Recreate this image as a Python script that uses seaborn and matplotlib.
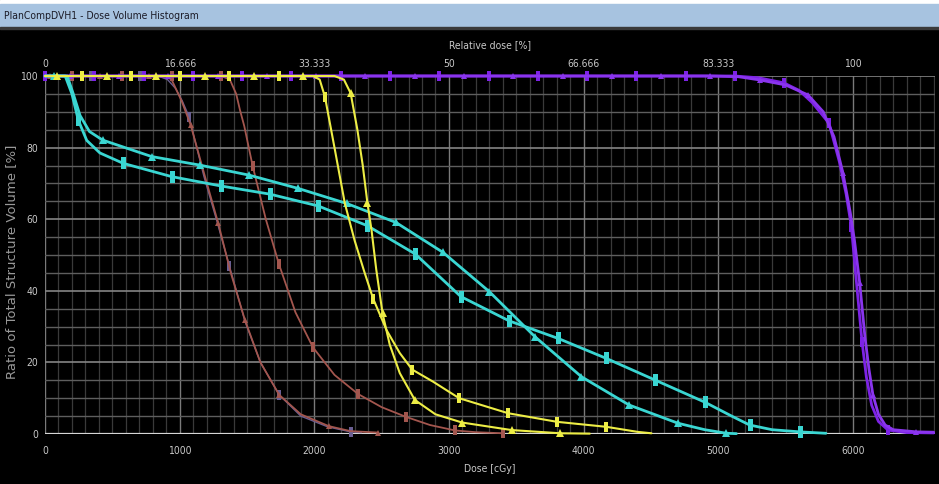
import numpy as np
import pandas as pd
import matplotlib
matplotlib.use("Agg")
import matplotlib.pyplot as plt
from matplotlib.patches import Rectangle
from matplotlib.ticker import MultipleLocator
import seaborn as sns

# ---------------- data (dose in cGy, volume in %) ----------------
ps_dose = [0, 366, 732, 1098, 1464, 1830, 2196, 2562, 2928, 3294, 3660, 4026, 4392, 4758, 5124,
           5300, 5486, 5600, 5700, 5823, 5900, 5950, 5989, 6030, 6068, 6100, 6140, 6190, 6261, 6400, 6600]
ps_vol = [100, 100, 100, 100, 100, 100, 100, 100, 100, 100, 100, 100, 100, 100, 100,
          99.5, 98.1, 96, 92.5, 86.8, 76, 67, 57.9, 41, 25.8, 16, 8, 3.5, 1.1, 0.4, 0.3]
ps_mark = [1, 1, 1, 1, 1, 1, 1, 1, 1, 1, 1, 1, 1, 1, 1,
           0, 1, 0, 0, 1, 0, 0, 1, 0, 1, 0, 0, 0, 1, 0, 0]

pt_dose = [0, 184, 550, 916, 1282, 1648, 2014, 2380, 2746, 3112, 3478, 3844, 4210, 4576, 4942,
           5150, 5308, 5500, 5667, 5780, 5860, 5927, 5980, 6012, 6051, 6090, 6120, 6149, 6190, 6240,
           6300, 6471, 6600]
pt_vol = [100, 100, 100, 100, 100, 100, 100, 100, 100, 100, 100, 100, 100, 100, 100,
          99.8, 98.9, 97.5, 94.7, 90, 83, 72.8, 62, 54, 42.1, 27, 18, 10.9, 5.5, 2.5,
          1.2, 0.6, 0.5]
pt_mark = [0, 1, 1, 1, 1, 1, 1, 1, 1, 1, 1, 1, 1, 1, 1,
           0, 1, 0, 1, 0, 0, 1, 0, 0, 1, 0, 0, 1, 0, 0,
           0, 1, 0]

cs_dose = [0, 150, 200, 247, 310, 408, 581, 940, 1304, 1670, 2029, 2393, 2749, 3088, 3447,
           3811, 4170, 4529, 4900, 5100, 5234, 5400, 5605, 5800]
cs_vol = [100, 100, 95, 87.7, 82, 78.5, 75.6, 71.9, 69.3, 67, 63.7, 58.2, 50.3, 38.4, 31.6,
          26.7, 21.1, 15.1, 8.9, 5, 2.5, 1.2, 0.6, 0.2]
cs_mark = [0, 0, 0, 1, 0, 0, 1, 1, 1, 1, 1, 1, 1, 1, 1,
           1, 1, 1, 1, 0, 1, 0, 1, 0]

ct_dose = [0, 64, 165, 210, 260, 330, 428, 792, 1151, 1517, 1880, 2240, 2606, 2957, 3299,
           3638, 3984, 4338, 4702, 4900, 5061, 5135]
ct_vol = [100, 100, 100, 95, 89, 84.5, 82.1, 77.5, 75.1, 72.3, 68.6, 64.4, 59.1, 50.7, 39.8,
          27.2, 16, 8.1, 3, 1.2, 0.2, 0.1]
ct_mark = [0, 1, 0, 0, 0, 0, 1, 1, 1, 1, 1, 1, 1, 1, 1,
           1, 1, 1, 1, 0, 1, 0]

ys_dose = [0, 272, 638, 1002, 1368, 1740, 1990, 2040, 2079, 2150, 2227, 2300, 2370, 2437, 2537,
           2635, 2727, 2883, 3076, 3440, 3803, 4170, 4400, 4504]
ys_vol = [100, 100, 100, 100, 100, 100, 100, 99, 94.2, 80, 64.4, 54, 45.5, 37.8, 29,
          22.6, 18, 14.6, 10, 5.8, 3.4, 2, 0.6, 0.2]
ys_mark = [0, 1, 1, 1, 1, 1, 0, 0, 1, 0, 0, 0, 0, 1, 0,
           0, 1, 0, 1, 1, 1, 1, 0, 0]

yt_dose = [0, 87, 458, 822, 1188, 1554, 1918, 2150, 2220, 2270, 2320, 2360, 2395, 2425, 2460,
           2507, 2560, 2635, 2747, 2900, 3098, 3465, 3828, 4046]
yt_vol = [100, 100, 100, 100, 100, 100, 100, 100, 99, 95.2, 85, 75, 64.4, 57, 46,
          33.7, 25, 17, 9.5, 5.5, 3.2, 1.1, 0.2, 0.1]
yt_mark = [0, 1, 1, 1, 1, 1, 1, 0, 0, 1, 0, 0, 1, 0, 0,
           1, 0, 0, 1, 0, 1, 1, 1, 0]

bt_dose = [0, 37, 408, 774, 900, 940, 1015, 1082, 1180, 1287, 1380, 1485, 1600, 1740, 1900,
           2108, 2269, 2475]
bt_vol = [100, 100, 100, 100, 99.8, 99, 93, 86.3, 73, 58.8, 45, 31.8, 20, 10.9, 5.5,
          2.2, 0.8, 0.4]
bt_mark = [0, 1, 1, 1, 0, 0, 0, 1, 0, 1, 0, 1, 0, 1, 0,
           1, 0, 1]

gs_dose = [0, 338, 704, 840, 910, 970, 1020, 1070, 1180, 1280, 1369, 1485, 1600, 1740, 1900,
           2100, 2269, 2350]
gs_vol = [100, 100, 100, 100, 99, 96.5, 93, 88.6, 72, 59, 47, 31.5, 20, 10.9, 5,
          2, 0.6, 0.4]
gs_mark = [0, 1, 1, 0, 0, 0, 0, 1, 0, 0, 1, 0, 0, 1, 0,
           0, 1, 0]

bs_dose = [0, 200, 570, 940, 1310, 1373, 1420, 1448, 1480, 1542, 1640, 1737, 1860, 1990, 2150,
           2324, 2500, 2680, 2860, 3044, 3200, 3402]
bs_vol = [100, 100, 100, 100, 100, 99, 95, 90.5, 86, 74.9, 60, 47.5, 34, 24.2, 16.5,
          11.2, 7.5, 4.8, 2.5, 1.0, 0.5, 0.2]
bs_mark = [0, 1, 1, 1, 1, 0, 0, 0, 0, 1, 0, 1, 0, 1, 0,
           1, 0, 1, 0, 1, 0, 1]

x_ticks = [0, 1000, 2000, 3000, 4000, 5000, 6000]
rel_labels = ["0", "16.666", "33.333", "50", "66.666", "83.333", "100"]
y_ticks = [0, 20, 40, 60, 80, 100]

# ---------------- styling ----------------
W, H = 939, 484
sns.set_theme(style="dark")
plt.rcParams["font.family"] = ["DejaVu Sans"]
plt.rcParams["font.stretch"] = "condensed"

fig = plt.figure(figsize=(W / 100, H / 100), dpi=100, facecolor="black")
ax = fig.add_axes([45 / W, 1 - 434 / H, (935 - 45) / W, (434 - 76) / H])
ax.set_facecolor("black")

ax.set_xlim(0, 6610)
ax.set_ylim(0, 100)

# grid
ax.xaxis.set_major_locator(MultipleLocator(1000))
ax.xaxis.set_minor_locator(MultipleLocator(100))
ax.yaxis.set_major_locator(MultipleLocator(20))
ax.yaxis.set_minor_locator(MultipleLocator(5))
ax.grid(True, which="minor", axis="x", color="#3a3a3a", lw=0.9)
ax.grid(True, which="major", axis="x", color="#7a7a7a", lw=1.0)
ax.grid(True, which="minor", axis="y", color="#5e5e5e", lw=1.0)
ax.grid(True, which="major", axis="y", color="#858585", lw=1.2)
ax.set_axisbelow(True)
for s in ax.spines.values():
    s.set_visible(False)
ax.axhline(0, color="#d6d6d6", lw=1.6, zorder=1)

rect_marker = [(-0.45, -1), (0.45, -1), (0.45, 1), (-0.45, 1), (-0.45, -1)]

curves = [
    (gs_dose, gs_vol, gs_mark, "#6a5f93", 1.0, rect_marker, 7),
    (bt_dose, bt_vol, bt_mark, "#a3564e", 1.3, "^", 5),
    (bs_dose, bs_vol, bs_mark, "#a3564e", 1.3, rect_marker, 7),
    (ps_dose, ps_vol, ps_mark, "#7d22e6", 2.0, rect_marker, 7),
    (pt_dose, pt_vol, pt_mark, "#8a35ee", 2.0, "^", 5),
    (cs_dose, cs_vol, cs_mark, "#3ad6d2", 2.0, rect_marker, 8),
    (ct_dose, ct_vol, ct_mark, "#3ad6d2", 2.0, "^", 5.5),
    (ys_dose, ys_vol, ys_mark, "#eded45", 1.5, rect_marker, 7.5),
    (yt_dose, yt_vol, yt_mark, "#eded45", 1.5, "^", 5.5),
]
for d, v, m, col, lw, mk, ms in curves:
    df = pd.DataFrame({"dose": d, "vol": v})
    sns.lineplot(data=df, x="dose", y="vol", ax=ax, color=col, lw=lw,
                 estimator=None, sort=False, marker=mk, markersize=ms,
                 markevery=list(np.flatnonzero(m)), markeredgewidth=0,
                 markeredgecolor=col, zorder=3, clip_on=False)

# ticks & labels
tick_col = "#c8c8c8"
ax.set_xticks(x_ticks)
ax.set_yticks(y_ticks)
ax.tick_params(axis="x", which="both", length=0, colors=tick_col, labelsize=7.5, pad=9)
ax.tick_params(axis="y", which="major", length=3, width=1, color="#bbbbbb",
               colors=tick_col, labelsize=7.5, pad=2)
ax.tick_params(axis="y", which="minor", length=0)
ax.set_xlabel("")
ax.set_ylabel("")

ax2 = ax.twiny()
ax2.set_xlim(ax.get_xlim())
ax2.set_xticks(x_ticks)
ax2.set_xticklabels(rel_labels)
ax2.tick_params(axis="x", length=0, colors=tick_col, labelsize=7.5, pad=5)
ax2.grid(False)
for s in ax2.spines.values():
    s.set_visible(False)

fig.text(490 / W, 1 - 45 / H, "Relative dose [%]", ha="center", va="center",
         color=tick_col, fontsize=7.5)
fig.text(490 / W, 1 - 469 / H, "Dose [cGy]", ha="center", va="center",
         color=tick_col, fontsize=7.5)
fig.text(12 / W, 1 - 262 / H, "Ratio of Total Structure Volume [%]", ha="center",
         va="center", rotation=90, color="#9a9a9a", fontsize=9.5,
         fontstretch="normal")

# window title bar
fig.patches.append(Rectangle((0, 1 - 4 / H), 1, 4 / H, transform=fig.transFigure,
                             color="white", zorder=0))
fig.patches.append(Rectangle((0, 1 - 27 / H), 1, 23 / H, transform=fig.transFigure,
                             color="#a7c3e0", zorder=0))
fig.patches.append(Rectangle((0, 1 - 29 / H), 1, 2 / H, transform=fig.transFigure,
                             color="#3a3a3a", zorder=0))
fig.text(4 / W, 1 - 16 / H, "PlanCompDVH1 - Dose Volume Histogram", ha="left",
         va="center", color="#1c1c28", fontsize=7.5)

fig.savefig("out.png", dpi=100, facecolor="black")
